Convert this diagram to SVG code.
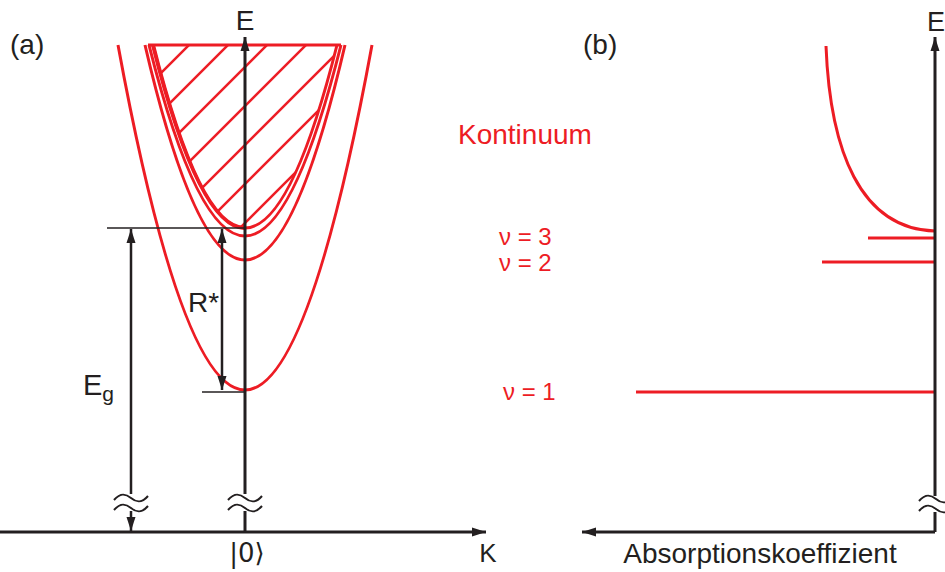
<svg xmlns="http://www.w3.org/2000/svg" width="945" height="572" viewBox="0 0 945 572">
<style>
.r{fill:none;stroke:#ED1C24;stroke-width:3}
.h{fill:none;stroke:#ED1C24;stroke-width:2.5}
.ax{fill:none;stroke:#231F20;stroke-width:3}
.ar{fill:none;stroke:#231F20;stroke-width:2.5}
.th{fill:none;stroke:#231F20;stroke-width:1.3}
.wv{fill:none;stroke:#231F20;stroke-width:2}
.t{font-family:"Liberation Sans",Arial,sans-serif;fill:#231F20}
.tr{font-family:"Liberation Sans",Arial,sans-serif;fill:#ED1C24}
</style>
<defs>
<marker id="ah" markerUnits="userSpaceOnUse" markerWidth="16" markerHeight="10" refX="14" refY="5" orient="auto">
<path d="M0,0.5 L14,5 L0,9.5 Z" fill="#231F20"/>
</marker>
<clipPath id="cp"><path d="M153,45 Q245,411 337,45 Z"/></clipPath>
</defs>
<g id="bands">
<path class="r" d="M118,45 Q245,735 372,45"/>
<path class="r" d="M145,45 Q245,475 345,45"/>
<path class="r" d="M149,45 Q245,427 341,45"/>
<path class="r" d="M153,45 Q245,411 337,45"/>
<path class="r" style="stroke-width:4" d="M153,45 Q199,228 245,228"/>
<line class="r" x1="148" y1="45" x2="341" y2="45"/>
<g clip-path="url(#cp)">
<line class="h" x1="-26" y1="260" x2="194" y2="40"/>
<line class="h" x1="13" y1="260" x2="233" y2="40"/>
<line class="h" x1="52" y1="260" x2="272" y2="40"/>
<line class="h" x1="91" y1="260" x2="311" y2="40"/>
<line class="h" x1="130" y1="260" x2="350" y2="40"/>
<line class="h" x1="169" y1="260" x2="389" y2="40"/>
<line class="h" x1="208" y1="260" x2="428" y2="40"/>
</g>
</g>
<g id="spectrum">
<path class="r" d="M826,46 C830,150 860,229 935,231"/>
<line class="r" x1="868" y1="238" x2="935" y2="238"/>
<line class="r" x1="822" y1="262" x2="935" y2="262"/>
<line class="r" x1="636" y1="392" x2="935" y2="392"/>
</g>
<g id="connectors">
<line class="ax" x1="245" y1="532" x2="245" y2="511"/>
<line class="ax" x1="245" y1="494" x2="245" y2="37" marker-end="url(#ah)"/>
<line class="ax" x1="0" y1="532" x2="486" y2="532" marker-end="url(#ah)"/>
<line class="th" x1="107" y1="228" x2="245" y2="228"/>
<line class="th" x1="202" y1="392" x2="245" y2="392"/>
<line class="ar" x1="131" y1="494" x2="131" y2="229" marker-end="url(#ah)"/>
<line class="ar" x1="131" y1="511" x2="131" y2="531" marker-end="url(#ah)"/>
<line class="ar" x1="222" y1="300" x2="222" y2="229" marker-end="url(#ah)"/>
<line class="ar" x1="222" y1="300" x2="222" y2="390" marker-end="url(#ah)"/>
<path class="ax" d="M935,532 L935,512"/>
<path class="ax" d="M935,496 L935,37" marker-end="url(#ah)"/>
<line class="ax" x1="935" y1="532" x2="582" y2="532" marker-end="url(#ah)"/>
<path class="wv" d="M114,500 C120,493 125,493 131,498 S142,503 148,496"/>
<path class="wv" d="M114,510 C120,503 125,503 131,508 S142,513 148,506"/>
<path class="wv" d="M228,500 C234,493 239,493 245,498 S256,503 262,496"/>
<path class="wv" d="M228,510 C234,503 239,503 245,508 S256,513 262,506"/>
<path class="wv" d="M919,501 C925,494 930,494 936,499 S947,504 953,497"/>
<path class="wv" d="M919,511 C925,504 930,504 936,509 S947,514 953,507"/>
</g>
<g id="labels">
<text class="t" x="10" y="54" font-size="28">(a)</text>
<text class="t" x="583" y="54" font-size="28">(b)</text>
<text class="t" x="245" y="30" font-size="28" text-anchor="middle">E</text>
<text class="t" x="936" y="31" font-size="27" text-anchor="middle">E</text>
<text class="t" x="488" y="562" font-size="26" text-anchor="middle">K</text>
<text class="t" x="247" y="562" font-size="26" text-anchor="middle" style="font-family:'DejaVu Sans','Liberation Sans',sans-serif">|0⟩</text>
<text class="t" x="760" y="563" font-size="28" text-anchor="middle">Absorptionskoeffizient</text>
<text class="t" x="188" y="312" font-size="28">R*</text>
<text class="t" x="83" y="395" font-size="29">E<tspan font-size="21" dy="6">g</tspan></text>
<text class="tr" x="458" y="144" font-size="28">Kontinuum</text>
<text class="tr" x="499" y="245" font-size="24">ν = 3</text>
<text class="tr" x="499" y="271" font-size="24">ν = 2</text>
<text class="tr" x="503" y="400" font-size="24">ν = 1</text>
</g>
</svg>
